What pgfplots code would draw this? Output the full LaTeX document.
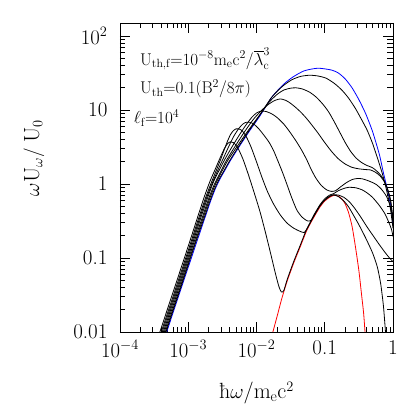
\documentclass[border=0pt]{standalone}
\usepackage{fontspec}
\usepackage{pgfplots}
\pgfplotsset{compat=1.18}

% curves are given as log10 values
\begin{document}
\begin{tikzpicture}
\begin{axis}[
 at={(0,0)},anchor=south west,scale only axis,
 width=273pt,height=309pt,
 xmin=-4,xmax=0,ymin=-2,ymax=2.176,
 xtick={-4,-3,-2,-1,0},
 xticklabels={$10^{-4}$,$10^{-3}$,$10^{-2}$,0.1,1},
 ytick={-2,-1,0,1,2},
 yticklabels={0.01,0.1,1,10,$10^2$},
 minor xtick={-3.699,-3.5229,-3.3979,-3.301,-3.2218,-3.1549,-3.0969,-3.0458,
  -2.699,-2.5229,-2.3979,-2.301,-2.2218,-2.1549,-2.0969,-2.0458,
  -1.699,-1.5229,-1.3979,-1.301,-1.2218,-1.1549,-1.0969,-1.0458,
  -0.699,-0.5229,-0.3979,-0.301,-0.2218,-0.1549,-0.0969,-0.0458},
 minor ytick={-1.699,-1.5229,-1.3979,-1.301,-1.2218,-1.1549,-1.0969,-1.0458,
  -0.699,-0.5229,-0.3979,-0.301,-0.2218,-0.1549,-0.0969,-0.0458,
  0.301,0.4771,0.6021,0.699,0.7782,0.8451,0.9031,0.9542,
  1.301,1.4771,1.6021,1.699,1.7782,1.8451,1.9031,1.9542},
 tick align=inside,
 major tick length=10pt,minor tick length=5.5pt,
 tick style={black,line width=0.6pt},
 axis line style={line width=0.8pt},
 tick label style={font=\fontsize{21}{21}\selectfont},
 xticklabel style={yshift=-5pt},
 yticklabel style={xshift=-9pt},
 xlabel={ħ$\omega$/m$_{\rm e}$c$^2$},
 ylabel={$\omega{\rm U}_\omega/\;{\rm U}_0$},
 label style={font=\fontsize{22}{22}\selectfont},
 xlabel style={at={(axis description cs:0.5,-0.197)},anchor=center},
 ylabel style={at={(axis description cs:-0.315,0.563)},anchor=center},
 every axis plot/.append style={line width=0.8pt,smooth,tension=0.4},
]
% blue envelope
\addplot[blue] coordinates {(-3.316,-2) (-3.1,-1.4) (-2.9,-0.85) (-2.75,-0.44) (-2.68,-0.25) (-2.61,-0.08) (-2.54,0.06) (-2.46,0.19) (-2.38,0.32) (-2.25,0.51) (-2.1,0.72) (-1.95,0.92) (-1.77,1.18) (-1.6,1.35) (-1.46,1.45) (-1.3,1.53) (-1.1,1.565) (-0.9,1.54) (-0.8,1.5) (-0.7,1.42) (-0.6,1.3) (-0.5,1.14) (-0.4,0.95) (-0.3,0.71) (-0.2,0.4) (-0.14,0.15) (-0.08,-0.08) (-0.03,-0.3) (0,-0.55)};
% red component
\addplot[red] coordinates {(-1.76,-2.0) (-1.69,-1.76) (-1.63,-1.55) (-1.55,-1.31) (-1.46,-1.08) (-1.36,-0.85) (-1.26,-0.62) (-1.16,-0.45) (-1.07,-0.31) (-1.0,-0.23) (-0.93,-0.18) (-0.87,-0.155) (-0.81,-0.16) (-0.75,-0.2) (-0.7,-0.27) (-0.65,-0.39) (-0.6,-0.57) (-0.55,-0.85) (-0.5,-1.17) (-0.46,-1.5) (-0.43,-1.75) (-0.41,-2.0)};
% K1
\addplot[black] coordinates {(-3.326,-2) (-3.11,-1.4) (-2.91,-0.84) (-2.76,-0.44) (-2.69,-0.25) (-2.62,-0.08) (-2.55,0.06) (-2.47,0.19) (-2.39,0.32) (-2.26,0.51) (-2.11,0.72) (-1.96,0.92) (-1.78,1.17) (-1.62,1.32) (-1.48,1.41) (-1.35,1.455) (-1.22,1.47) (-1.1,1.46) (-0.98,1.43) (-0.86,1.36) (-0.75,1.27) (-0.65,1.16) (-0.55,1.02) (-0.46,0.87) (-0.38,0.73) (-0.3,0.55) (-0.22,0.33) (-0.15,0.12) (-0.09,-0.1) (-0.04,-0.32) (0,-0.6)};
% K2
\addplot[black] coordinates {(-3.336,-2) (-3.12,-1.4) (-2.92,-0.84) (-2.775,-0.44) (-2.675,-0.17) (-2.6,0.0) (-2.525,0.14) (-2.42,0.32) (-2.29,0.5) (-2.14,0.7) (-1.98,0.9) (-1.82,1.1) (-1.7,1.21) (-1.6,1.27) (-1.5,1.295) (-1.42,1.3) (-1.33,1.285) (-1.22,1.24) (-1.12,1.17) (-1.02,1.07) (-0.94,0.97) (-0.86,0.84) (-0.78,0.7) (-0.7,0.56) (-0.62,0.44) (-0.54,0.35) (-0.46,0.29) (-0.38,0.25) (-0.3,0.22) (-0.22,0.16) (-0.15,0.08) (-0.09,-0.04) (-0.04,-0.2) (0,-0.48)};
% K3
\addplot[black] coordinates {(-3.351,-2) (-3.135,-1.4) (-2.935,-0.84) (-2.79,-0.44) (-2.69,-0.17) (-2.615,0.0) (-2.54,0.14) (-2.44,0.32) (-2.32,0.5) (-2.18,0.7) (-2.04,0.88) (-1.92,1.0) (-1.82,1.08) (-1.73,1.13) (-1.65,1.15) (-1.57,1.13) (-1.5,1.09) (-1.42,1.03) (-1.35,0.97) (-1.27,0.89) (-1.2,0.81) (-1.1,0.69) (-1.0,0.56) (-0.9,0.44) (-0.8,0.34) (-0.7,0.27) (-0.6,0.225) (-0.5,0.205) (-0.4,0.195) (-0.33,0.19) (-0.26,0.16) (-0.19,0.11) (-0.12,0.02) (-0.07,-0.1) (-0.03,-0.25) (0,-0.5)};
% K4
\addplot[black] coordinates {(-3.366,-2) (-3.15,-1.4) (-2.95,-0.84) (-2.81,-0.44) (-2.71,-0.17) (-2.63,0.03) (-2.55,0.18) (-2.46,0.34) (-2.36,0.5) (-2.26,0.65) (-2.16,0.79) (-2.07,0.9) (-2.0,0.96) (-1.93,0.985) (-1.86,0.98) (-1.78,0.95) (-1.7,0.9) (-1.6,0.81) (-1.509,0.7) (-1.42,0.58) (-1.34,0.46) (-1.265,0.33) (-1.2,0.2) (-1.13,0.08) (-1.05,-0.02) (-0.97,-0.08) (-0.9,-0.1) (-0.84,-0.09) (-0.77,-0.04) (-0.68,0.02) (-0.6,0.06) (-0.52,0.075) (-0.45,0.07) (-0.38,0.05) (-0.3,0.02) (-0.24,-0.01) (-0.17,-0.07) (-0.1,-0.16) (-0.05,-0.27) (-0.02,-0.38) (0,-0.52)};
% K5
\addplot[black] coordinates {(-3.381,-2) (-3.165,-1.4) (-2.965,-0.84) (-2.825,-0.44) (-2.725,-0.17) (-2.64,0.03) (-2.56,0.2) (-2.48,0.36) (-2.4,0.52) (-2.33,0.65) (-2.26,0.75) (-2.2,0.81) (-2.15,0.835) (-2.1,0.835) (-2.04,0.81) (-1.97,0.75) (-1.9,0.67) (-1.82,0.57) (-1.754,0.46) (-1.69,0.32) (-1.62,0.16) (-1.56,0.01) (-1.49,-0.17) (-1.41,-0.35) (-1.33,-0.45) (-1.25,-0.5) (-1.2,-0.49) (-1.16,-0.42) (-1.07,-0.28) (-1.0,-0.2) (-0.93,-0.15) (-0.87,-0.13) (-0.8,-0.09) (-0.72,-0.06) (-0.65,-0.045) (-0.55,-0.05) (-0.45,-0.08) (-0.38,-0.12) (-0.3,-0.18) (-0.2,-0.29) (-0.12,-0.4) (-0.06,-0.52) (-0.02,-0.62) (0,-0.71)};
% K6
\addplot[black] coordinates {(-3.396,-2) (-3.18,-1.4) (-2.98,-0.84) (-2.84,-0.44) (-2.74,-0.17) (-2.67,0.0) (-2.6,0.16) (-2.53,0.32) (-2.47,0.47) (-2.42,0.59) (-2.38,0.67) (-2.34,0.72) (-2.3,0.745) (-2.26,0.745) (-2.21,0.72) (-2.15,0.64) (-2.08,0.5) (-2.0,0.3) (-1.92,0.09) (-1.84,-0.1) (-1.75,-0.27) (-1.65,-0.42) (-1.55,-0.53) (-1.45,-0.6) (-1.36,-0.64) (-1.3,-0.655) (-1.25,-0.59) (-1.2,-0.5) (-1.16,-0.43) (-1.07,-0.29) (-1.0,-0.215) (-0.93,-0.165) (-0.87,-0.145) (-0.8,-0.15) (-0.72,-0.18) (-0.64,-0.24) (-0.56,-0.33) (-0.47,-0.45) (-0.38,-0.58) (-0.29,-0.7) (-0.2,-0.82) (-0.12,-0.92) (-0.06,-0.99) (0,-1.05)};
% K7
\addplot[black] coordinates {(-3.416,-2) (-3.2,-1.4) (-3.0,-0.84) (-2.86,-0.44) (-2.76,-0.16) (-2.68,0.04) (-2.6,0.21) (-2.53,0.36) (-2.47,0.48) (-2.42,0.55) (-2.38,0.57) (-2.34,0.56) (-2.28,0.5) (-2.2,0.34) (-2.12,0.13) (-2.04,-0.1) (-1.95,-0.37) (-1.87,-0.65) (-1.79,-0.95) (-1.72,-1.22) (-1.67,-1.39) (-1.635,-1.46) (-1.6,-1.44) (-1.55,-1.29) (-1.46,-1.06) (-1.36,-0.83) (-1.26,-0.6) (-1.16,-0.435) (-1.07,-0.295) (-1.0,-0.22) (-0.93,-0.17) (-0.87,-0.148) (-0.8,-0.17) (-0.72,-0.23) (-0.65,-0.31) (-0.58,-0.42) (-0.5,-0.55) (-0.4,-0.73) (-0.3,-0.93) (-0.23,-1.12) (-0.18,-1.35) (-0.14,-1.65) (-0.11,-2.0)};
\node[anchor=west,font=\fontsize{17}{17}\selectfont\addfontfeatures{LetterSpace=8},inner sep=0pt] at (axis cs:-3.707,1.69)
 {U$_{\rm th,f}$=10$^{-8}$m$_{\rm e}$c$^2$/$\overline{\lambda}^3_{\rm c}$};
\node[anchor=west,font=\fontsize{17}{17}\selectfont\addfontfeatures{LetterSpace=8},inner sep=0pt] at (axis cs:-3.707,1.285)
 {U$_{\rm th}$=0.1(B$^2$/8$\pi$)};
\node[anchor=west,font=\fontsize{17}{17}\selectfont\addfontfeatures{LetterSpace=8},inner sep=0pt] at (axis cs:-3.8,0.893)
 {$\ell_{\rm f}$=10$^4$};
\end{axis}
\path[use as bounding box] (-120pt,-83pt) rectangle (295pt,332pt);
\end{tikzpicture}
\end{document}
